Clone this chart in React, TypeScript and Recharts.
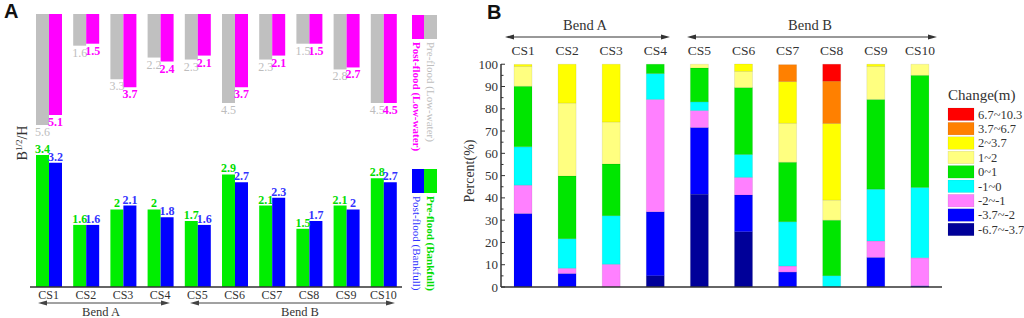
import React from "react";
import { Bar, BarChart, LabelList, ReferenceLine, XAxis, YAxis } from "recharts";

const categories = ["CS1", "CS2", "CS3", "CS4", "CS5", "CS6", "CS7", "CS8", "CS9", "CS10"];

// panel A, width/depth ratio B^1/2/H
const preLow = [5.6, 1.6, 3.3, 2.2, 2.3, 4.5, 2.3, 1.5, 2.8, 4.5];
const postLow = [5.1, 1.5, 3.7, 2.4, 2.1, 3.7, 2.1, 1.5, 2.7, 4.5];
const preBank = [3.4, 1.6, 2, 2, 1.7, 2.9, 2.1, 1.5, 2.1, 2.8];
const postBank = [3.2, 1.6, 2.1, 1.8, 1.6, 2.7, 2.3, 1.7, 2, 2.7];

// panel B, percent of section per change class (bottom to top)
const rangeNeg67 = [0, 0, 0, 5.1, 41.6, 24.8, 0, 0, 0, 0];
const rangeNeg37 = [33, 6.1, 0, 28.7, 30, 16.5, 6.7, 0, 13.3, 0.6];
const rangeNeg2 = [12.7, 2.3, 10.2, 50.4, 7.6, 7.9, 2.7, 0, 7.3, 12.5];
const rangeNeg1 = [17.2, 13.3, 21.8, 11.6, 3.9, 10.3, 19.9, 5.1, 23.3, 31.6];
const range0 = [27.2, 28.1, 23.2, 4.2, 15.2, 30, 26.7, 24.9, 40.3, 50.3];
const range1 = [8.9, 32.8, 18.9, 0, 1.7, 7.3, 17.5, 9, 14.8, 5];
const range2 = [0.9, 17.4, 25.9, 0, 0, 3.3, 18.7, 34.4, 1, 0];
const range37 = [0, 0, 0, 0, 0, 0, 7.6, 19, 0, 0];
const range67 = [0, 0, 0, 0, 0, 0, 0, 7.6, 0, 0];

const rangeNames = ["6.7~10.3", "3.7~6.7", "2~3.7", "1~2", "0~1", "-1~0", "-2~-1", "-3.7~-2", "-6.7~-3.7"];
const rangeColors = ["#ff0000", "#ff8000", "#ffff00", "#ffff80", "#00e600", "#00ffff", "#ff80ff", "#0000ff", "#000099"];
const rangeSeries = [range67, range37, range2, range1, range0, rangeNeg1, rangeNeg2, rangeNeg37, rangeNeg67];
const pctTicks = [0, 5, 10, 15, 20, 25, 30, 35, 40, 45, 50, 55, 60, 65, 70, 75, 80, 85, 90, 95, 100];

const serif = '"Liberation Serif", "Times New Roman", serif';
const sans = '"Liberation Sans", Arial, sans-serif';

const dataA = categories.map((c, i) => ({
  name: c,
  preLow: preLow[i],
  postLow: postLow[i],
  preBank: preBank[i],
  postBank: postBank[i],
}));

const dataB = categories.map((c, i) => {
  const row: any = { name: c };
  rangeSeries.forEach((s, k) => (row["r" + k] = s[i]));
  return row;
});

const hangLabel = (color: string, bold: boolean) => (p: any) => {
  const bottom = Math.max(p.y, p.y + p.height);
  return (
    <text x={p.x + p.width / 2} y={bottom + 11} textAnchor="middle" fill={color} fontSize={12}
      fontFamily={serif} fontWeight={bold ? 700 : 400}>
      {p.value}
    </text>
  );
};

const topLabel = (color: string) => (p: any) => {
  const top = Math.min(p.y, p.y + p.height);
  return (
    <text x={p.x + p.width / 2} y={top - 2} textAnchor="middle" fill={color} fontSize={12}
      fontFamily={serif} fontWeight={700}>
      {p.value}
    </text>
  );
};

const CatTick = (p: any) => (
  <text x={p.x} y={p.y + 12} textAnchor="middle" fill="#333" fontSize={12} fontFamily={serif}>
    {p.payload.value}
  </text>
);

const TopCatTick = (p: any) => (
  <text x={p.x} y={p.y - 9} textAnchor="middle" fill="#333" fontSize={13.5} fontFamily={serif}>
    {p.payload.value}
  </text>
);

const PctTick = (p: any) => {
  const v = p.payload.value;
  const major = v % 10 === 0;
  return (
    <g>
      <line x1={p.x} x2={p.x + (major ? 4 : 2.5)} y1={p.y} y2={p.y} stroke="#333" strokeWidth={1} />
      {major && (
        <text x={p.x - 3} y={p.y + 4.5} textAnchor="end" fill="#333" fontSize={13} fontFamily={serif}>
          {v}
        </text>
      )}
    </g>
  );
};

function Arrow({ x1, x2, y, color }: { x1: number; x2: number; y: number; color: string }) {
  return (
    <g>
      <line x1={x1 + 6} x2={x2 - 6} y1={y} y2={y} stroke={color} strokeWidth={1} />
      <polygon points={`${x1},${y} ${x1 + 9},${y - 2.5} ${x1 + 9},${y + 2.5}`} fill={color} />
      <polygon points={`${x2},${y} ${x2 - 9},${y - 2.5} ${x2 - 9},${y + 2.5}`} fill={color} />
    </g>
  );
}

function Overlay() {
  return (
    <svg width={1024} height={318} style={{ position: "absolute", left: 0, top: 0, pointerEvents: "none" }}>
      <text x={4} y={18} fontFamily={sans} fontWeight={700} fontSize={20} fill="#111">A</text>
      <text x={487} y={19} fontFamily={sans} fontWeight={700} fontSize={20} fill="#111">B</text>

      <text transform="translate(27,143) rotate(-90)" textAnchor="middle" fontFamily={serif} fontSize={14} fill="#333">
        B<tspan fontSize={9} dy={-5}>1/2</tspan><tspan dy={5}>/H</tspan>
      </text>

      {/* panel A legends */}
      <rect x={412} y={15} width={12} height={24} fill="#ff00ff" />
      <rect x={424} y={15} width={13} height={24} fill="#c0c0c0" />
      <text transform="translate(427,42) rotate(90)" fontFamily={serif} fontSize={11} fill="#bdbdbd">Pre-flood (Low-water)</text>
      <text transform="translate(413,42) rotate(90)" fontFamily={serif} fontSize={11} fontWeight={700} fill="#ff00ff">Post-flood (Low-water)</text>
      <rect x={412} y={169} width={12} height={24} fill="#0000ff" />
      <rect x={424} y={169} width={13} height={24} fill="#00ee00" />
      <text transform="translate(427,196) rotate(90)" fontFamily={serif} fontSize={11} fontWeight={700} fill="#00dd00">Pre-flood (Bankfull)</text>
      <text transform="translate(413,196) rotate(90)" fontFamily={serif} fontSize={11} fill="#3333ff">Post-flood (Bankfull)</text>

      <Arrow x1={38} x2={170} y={303} color="#444" />
      <Arrow x1={190} x2={395} y={303} color="#444" />
      <text x={101} y={316} textAnchor="middle" fontFamily={serif} fontSize={12.5} fill="#333">Bend A</text>
      <text x={300} y={316} textAnchor="middle" fontFamily={serif} fontSize={12.5} fill="#333">Bend B</text>

      {/* panel B */}
      <text transform="translate(474,171) rotate(-90)" textAnchor="middle" fontFamily={serif} fontSize={14} fill="#333">Percent(%)</text>
      <Arrow x1={505} x2={670} y={37} color="#333" />
      <Arrow x1={687} x2={937} y={37} color="#333" />
      <text x={585} y={30} textAnchor="middle" fontFamily={serif} fontSize={14.5} fill="#333">Bend A</text>
      <text x={810} y={30} textAnchor="middle" fontFamily={serif} fontSize={14.5} fill="#333">Bend B</text>

      <text x={948} y={100} fontFamily={serif} fontSize={15} fill="#333">Change(m)</text>
      {rangeNames.map((n, i) => (
        <g key={n}>
          <rect x={948} y={108 + i * 14.4} width={26} height={12.5} fill={rangeColors[i]} stroke="rgba(0,0,0,0.15)" strokeWidth={0.5} />
          <text x={978} y={118.5 + i * 14.4} fontFamily={serif} fontSize={12.5} fill="#333">{n}</text>
        </g>
      ))}
    </svg>
  );
}

export default function App() {
  return (
    <div style={{ position: "fixed", left: 0, top: 0, width: 1024, height: 318, background: "#fff", overflow: "hidden" }}>
      {/* A: low-water, hanging from top axis */}
      <div style={{ position: "absolute", left: 0, top: 0 }}>
        <BarChart width={440} height={175} data={dataA} margin={{ top: 14, right: 38, left: 30, bottom: 22.4 }}
          barGap={0} barSize={13}>
          <XAxis dataKey="name" orientation="top" height={0} tick={false} tickLine={false}
            axisLine={{ stroke: "#666", strokeWidth: 2 }} />
          <YAxis hide reversed domain={[0, 7]} />
          <Bar dataKey="preLow" fill="#c0c0c0" isAnimationActive={false}>
            <LabelList dataKey="preLow" content={hangLabel("#bdbdbd", false)} />
          </Bar>
          <Bar dataKey="postLow" fill="#ff00ff" isAnimationActive={false}>
            <LabelList dataKey="postLow" content={hangLabel("#ff00ff", true)} />
          </Bar>
        </BarChart>
      </div>

      {/* A: bankfull */}
      <div style={{ position: "absolute", left: 0, top: 0 }}>
        <BarChart width={440} height={318} data={dataA} margin={{ top: 147.3, right: 38, left: 30, bottom: 0 }}
          barGap={0} barSize={13}>
          <XAxis dataKey="name" height={31} tickSize={0} tickMargin={0} tickLine={false} tick={<CatTick />}
            axisLine={{ stroke: "#333", strokeWidth: 1.5 }} interval={0} />
          <YAxis hide domain={[0, 3.6]} />
          <Bar dataKey="preBank" fill="#00ee00" isAnimationActive={false}>
            <LabelList dataKey="preBank" content={topLabel("#00dd00")} />
          </Bar>
          <Bar dataKey="postBank" fill="#0000ff" isAnimationActive={false}>
            <LabelList dataKey="postBank" content={topLabel("#3333ff")} />
          </Bar>
        </BarChart>
      </div>

      {/* B: stacked percent */}
      <div style={{ position: "absolute", left: 440, top: 0 }}>
        <BarChart width={584} height={318} data={dataB} margin={{ top: 34, right: 82, left: 21, bottom: 31 }}
          barSize={18}>
          <XAxis dataKey="name" orientation="top" height={30} tickSize={0} tickMargin={0} axisLine={false}
            tickLine={false} tick={<TopCatTick />} interval={0} />
          <YAxis width={40} domain={[0, 100]} ticks={pctTicks}
            interval={0} tickSize={0} tickMargin={0} tickLine={false} tick={<PctTick />}
            axisLine={{ stroke: "#333", strokeWidth: 1.5 }} />
          {rangeSeries.map((_, k) => k).reverse().map((k) => (
            <Bar key={k} dataKey={"r" + k} stackId="s" fill={rangeColors[k]} stroke="rgba(0,0,0,0.15)"
              strokeWidth={0.5} isAnimationActive={false} />
          ))}
          <ReferenceLine y={0} stroke="#333" strokeWidth={1.5} />
        </BarChart>
      </div>

      <Overlay />
    </div>
  );
}
